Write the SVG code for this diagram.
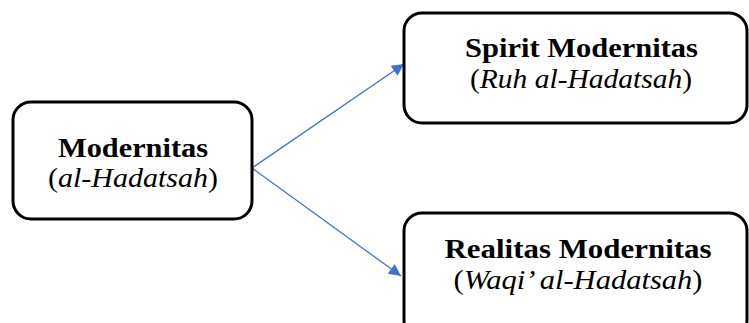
<svg xmlns="http://www.w3.org/2000/svg" width="749" height="323" viewBox="0 0 749 323">
<style>
.box{fill:#fff;stroke:#000;stroke-width:3}
.t{font-family:"Liberation Serif","DejaVu Serif",serif;font-size:28px;text-anchor:middle;fill:#000}
.b{font-weight:bold}
.i{font-style:italic}
.c{stroke:#4472C4;stroke-width:1.3;fill:none}
</style>
<defs>
<marker id="ah" viewBox="0 0 10 10" refX="10" refY="5" markerWidth="14" markerHeight="12" markerUnits="userSpaceOnUse" orient="auto">
<path d="M0,0 L10,5 L0,10 z" fill="#4472C4"/>
</marker>
</defs>
<g id="connectors">
<line class="c" x1="252" y1="168" x2="404" y2="64" marker-end="url(#ah)"/>
<line class="c" x1="252" y1="168" x2="401" y2="276" marker-end="url(#ah)"/>
</g>
<g id="modernitas">
<rect class="box" x="13" y="102" width="239" height="117" rx="18"/>
<text class="t b" x="133" y="157" textLength="150" lengthAdjust="spacingAndGlyphs">Modernitas</text>
<text class="t" x="133" y="187" textLength="170" lengthAdjust="spacingAndGlyphs">(<tspan class="i">al-Hadatsah</tspan>)</text>
</g>
<g id="spirit">
<rect class="box" x="404" y="13" width="343" height="110" rx="18"/>
<text class="t b" x="581.5" y="57" textLength="233" lengthAdjust="spacingAndGlyphs">Spirit Modernitas</text>
<text class="t" x="581" y="88" textLength="222" lengthAdjust="spacingAndGlyphs">(<tspan class="i">Ruh al-Hadatsah</tspan>)</text>
</g>
<g id="realitas">
<rect class="box" x="404" y="213" width="343" height="125" rx="18"/>
<text class="t b" x="578" y="258" textLength="267" lengthAdjust="spacingAndGlyphs">Realitas Modernitas</text>
<text class="t" x="578" y="289" textLength="249" lengthAdjust="spacingAndGlyphs">(<tspan class="i">Waqi’ al-Hadatsah</tspan>)</text>
</g>
</svg>
